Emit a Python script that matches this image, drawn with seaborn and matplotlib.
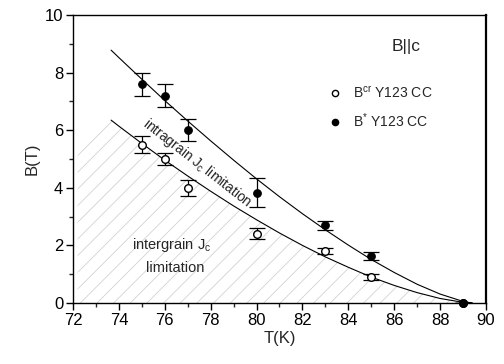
import numpy as np
import pandas as pd
import matplotlib
matplotlib.use("Agg")
import matplotlib.pyplot as plt
import seaborn as sns
from matplotlib.lines import Line2D

# ---- data ----
T_pts = [75, 76, 77, 80, 83, 85, 89]
B_cr = [5.5, 5.0, 4.0, 2.4, 1.8, 0.9, 0.0]
B_cr_err = [0.29, 0.2, 0.28, 0.19, 0.1, 0.09, 0.0]
B_star = [7.6, 7.2, 6.0, 3.83, 2.7, 1.64, 0.0]
B_star_err = [0.4, 0.39, 0.39, 0.5, 0.15, 0.13, 0.0]

T_fit = [73.66, 74, 75, 76, 77, 78, 79, 80, 81, 82, 83, 84, 85, 86, 87, 88, 89, 89.4]
B_star_fit = [8.78, 8.52, 7.77, 7.03, 6.32, 5.63, 4.96, 4.31, 3.69, 3.10, 2.54, 2.01,
              1.51, 1.06, 0.65, 0.31, 0.055, 0.0]
B_cr_fit = [6.35, 6.14, 5.54, 4.96, 4.41, 3.88, 3.37, 2.89, 2.43, 2.00, 1.60, 1.24,
            0.90, 0.61, 0.36, 0.157, 0.023, 0.0]

# hatched region boundary (intergrain limited)
T_hatch = [72.2] + T_fit
B_hatch = [5.4] + B_cr_fit

x_ticks = [72, 74, 76, 78, 80, 82, 84, 86, 88, 90]
y_ticks = [0, 2, 4, 6, 8, 10]

sns.set_theme(style="ticks")
plt.rcParams['font.family'] = ['Liberation Sans', 'DejaVu Sans']
plt.rcParams['mathtext.fontset'] = 'custom'
plt.rcParams['mathtext.rm'] = 'Liberation Sans'
plt.rcParams['mathtext.it'] = 'Liberation Sans'
plt.rcParams['hatch.color'] = '#cfcfcf'
plt.rcParams['hatch.linewidth'] = 0.55

fig = plt.figure(figsize=(5.04, 3.64), dpi=100)
ax = fig.add_axes([73/504, 1-303/364, (486-73)/504, (303-15)/364])

# hatched area
ax.fill_between(T_hatch, 0, B_hatch, facecolor='none', edgecolor='#cfcfcf',
                hatch='//', linewidth=0, zorder=0)

# fitted curves
fit_df = pd.DataFrame({'T': T_fit, 'star': B_star_fit, 'cr': B_cr_fit})
sns.lineplot(data=fit_df, x='T', y='star', ax=ax, color='black', lw=0.8, zorder=2)
sns.lineplot(data=fit_df, x='T', y='cr', ax=ax, color='black', lw=0.8, zorder=2)

# error bars
ax.errorbar(T_pts, B_star, yerr=B_star_err, fmt='none', ecolor='black',
            elinewidth=0.9, capsize=5.5, capthick=0.9, zorder=3)
ax.errorbar(T_pts, B_cr, yerr=B_cr_err, fmt='none', ecolor='black',
            elinewidth=0.9, capsize=5.5, capthick=0.9, zorder=3)

pts = pd.DataFrame({'T': T_pts, 'cr': B_cr, 'star': B_star})
sns.scatterplot(data=pts, x='T', y='cr', ax=ax, marker='o', s=30,
                facecolor='white', edgecolor='black', linewidth=1.0, zorder=4,
                clip_on=False)
sns.scatterplot(data=pts, x='T', y='star', ax=ax, marker='o', s=30,
                color='black', edgecolor='black', linewidth=0.8, zorder=5,
                clip_on=False)

ax.set_xlim(72, 90)
ax.set_ylim(0, 10)
ax.set_xticks(x_ticks)
ax.set_yticks(y_ticks)
ax.set_xticks(np.arange(73, 90, 2), minor=True)
ax.set_yticks(np.arange(1, 10, 2), minor=True)
ax.tick_params(axis='both', which='major', direction='out', length=5, width=1,
               labelsize=12, pad=2, colors='black')
ax.tick_params(axis='both', which='minor', direction='out', length=3, width=1)
for s in ['left', 'bottom', 'top']:
    ax.spines[s].set_linewidth(1.0)
    ax.spines[s].set_color('black')
ax.spines['right'].set_linewidth(1.6)
ax.spines['right'].set_color('black')

ax.set_xlabel('T(K)', fontsize=12, labelpad=2)
ax.set_ylabel('B(T)', fontsize=12, labelpad=4)

# annotations
ax.text(86.5, 8.9, 'B||c', fontsize=12.5, ha='center', va='center')
ax.text(77.4, 4.85, r'intragrain J$_\mathrm{c}$ limitation', fontsize=10, rotation=-38,
        ha='center', va='center', rotation_mode='anchor')
ax.text(76.3, 2.0, r'intergrain J$_\mathrm{c}$', fontsize=10.5, ha='center', va='center')
ax.text(76.45, 1.2, 'limitation', fontsize=10.5, ha='center', va='center')

h1 = Line2D([], [], marker='o', ls='none', markersize=4.5, markerfacecolor='white',
            markeredgecolor='black', markeredgewidth=1.0)
h2 = Line2D([], [], marker='o', ls='none', markersize=4.5, markerfacecolor='black',
            markeredgecolor='black')
ax.legend([h1, h2], [r'B$^\mathrm{cr}$ Y123 CC', r'B$^\mathrm{*}$ Y123 CC'], frameon=False,
          loc='upper left', bbox_to_anchor=(0.605, 0.775), fontsize=10,
          handletextpad=0.8, labelspacing=0.75, handlelength=1.0, borderaxespad=0)

fig.savefig('out.png', dpi=100)
